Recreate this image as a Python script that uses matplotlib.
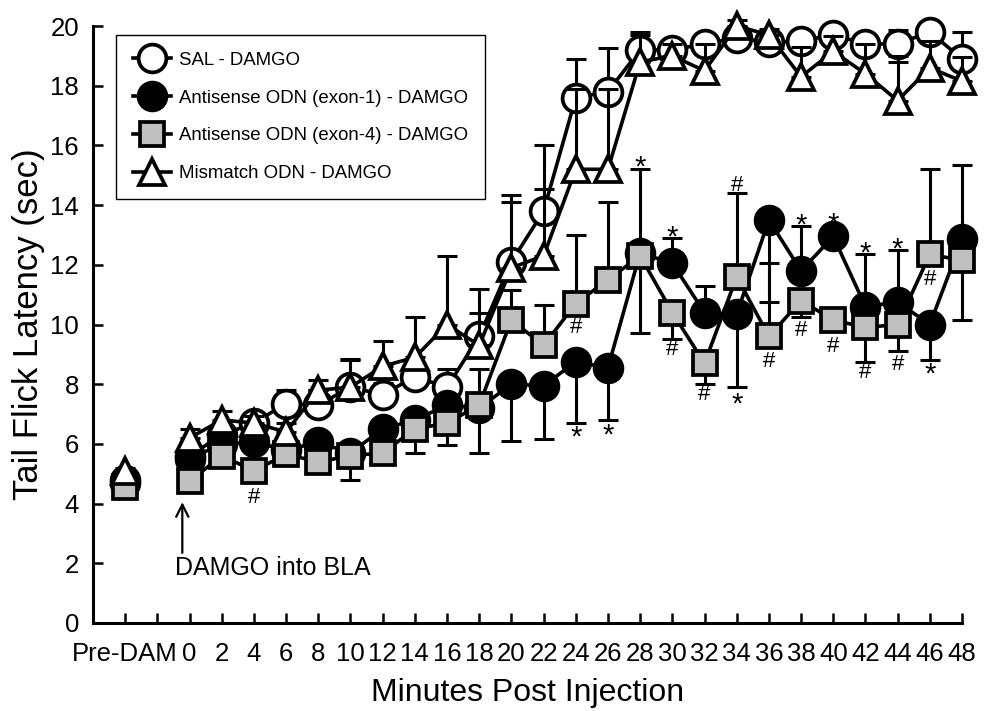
import matplotlib
matplotlib.use("Agg")
import matplotlib.pyplot as plt
from matplotlib.lines import Line2D

plt.rcParams['font.family'] = ['Liberation Sans', 'DejaVu Sans']

# ---------------- data ----------------
time_points = ["Pre-DAM", 0, 2, 4, 6, 8, 10, 12, 14, 16, 18, 20, 22, 24, 26,
               28, 30, 32, 34, 36, 38, 40, 42, 44, 46, 48]
tick_labels = ["Pre-DAM", "", "0", "2", "4", "6", "8", "10", "12", "14", "16", "18",
               "20", "22", "24", "26", "28", "30", "32", "34", "36", "38", "40",
               "42", "44", "46", "48"]

sal = [4.8, 5.6, 6.3, 6.7, 7.35, 7.3, 7.9, 7.65, 8.25, 7.9, 9.6, 12.1, 13.8, 17.6,
       17.8, 19.2, 19.2, 19.4, 19.6, 19.45, 19.5, 19.7, 19.4, 19.4, 19.8, 18.9]
sal_up = [0.2, 0.3, 0.3, 0.3, 0.45, 0.5, 0.9, 0.4, 0.4, 0.6, 0.8, 2.0, 2.2, 1.3,
          1.45, 0.6, 0.3, 0.3, 0.2, 0.2, 0.2, 0.2, 0.3, 0.45, 0.15, 0.9]
sal_dn = [0, 0, 0, 0, 0, 0, 0, 0, 0, 0, 0, 0, 0, 0,
          0, 0, 0, 0, 0, 0, 0, 0, 0, 0.6, 0, 0]

exon1 = [4.7, 5.5, 6.0, 6.05, 5.8, 6.05, 5.7, 6.5, 6.8, 7.3, 7.2, 8.0, 7.95, 8.75,
         8.55, 12.4, 12.05, 10.4, 10.35, 13.5, 11.8, 12.95, 10.6, 10.75, 10.0, 12.85]
exon1_up = [0, 0, 0, 0, 0, 0, 0, 0, 0, 0, 0, 0, 0, 0,
            0, 2.8, 0.85, 0.9, 0, 0, 1.5, 0.3, 1.75, 1.75, 0, 2.5]
exon1_dn = [0.2, 0.3, 0.3, 0.3, 0.3, 0.3, 0.3, 0.3, 0.4, 0.5, 1.5, 1.9, 1.8, 2.05,
            1.75, 0, 0, 0, 2.45, 2.75, 0, 0, 0, 0, 1.2, 0]

exon4 = [4.55, 4.75, 5.6, 5.1, 5.65, 5.4, 5.6, 5.7, 6.5, 6.7, 7.3, 10.15, 9.3, 10.7,
         11.5, 12.3, 10.4, 8.7, 11.6, 9.6, 10.8, 10.15, 9.9, 10.0, 12.35, 12.15]
exon4_up = [0, 0, 0, 0, 0, 0, 0, 0, 0, 0, 1.2, 1.0, 1.35, 2.3,
            2.6, 0, 0, 0, 2.8, 2.45, 0, 0, 0, 0, 2.85, 0]
exon4_dn = [0.1, 0.2, 0.2, 0.2, 0.2, 0.2, 0.8, 0.2, 0.8, 0.75, 0, 0, 0, 0,
            0, 2.6, 0.9, 0.7, 0, 0, 0.55, 0.3, 1.15, 0.9, 0, 2.0]

mismatch = [5.1, 6.2, 6.8, 6.7, 6.4, 7.8, 7.9, 8.6, 8.9, 10.0, 9.3, 11.9, 12.3, 15.2,
            15.2, 18.8, 19.0, 18.5, 20.0, 19.7, 18.3, 19.15, 18.4, 17.5, 18.6, 18.15]
mismatch_up = [0.1, 0.3, 0.3, 0.25, 0.3, 0.35, 0.95, 0.85, 1.35, 2.3, 1.9, 2.45, 2.25,
               2.7, 2.7, 0.9, 0.4, 0.9, 0.2, 0.2, 1.0, 0.5, 1.0, 1.5, 0.9, 0.8]
mismatch_dn = [0] * 26

sig_time = [4, 24, 24, 26, 28, 30, 30, 32, 34, 34, 36, 38, 38, 40, 40, 42, 42, 44, 44, 46, 46]
sig_val = [4.2, 9.9, 6.4, 6.45, 15.45, 13.1, 9.15, 7.65, 14.65, 7.5, 8.75, 13.5, 9.8,
           13.55, 9.25, 12.55, 8.4, 12.7, 8.65, 11.5, 8.5]
sig_sym = ['#', '#', '*', '*', '*', '*', '#', '#', '#', '*', '#', '*', '#', '*', '#',
           '*', '#', '*', '#', '#', '*']

labels = ["SAL - DAMGO", "Antisense ODN (exon-1) - DAMGO",
          "Antisense ODN (exon-4) - DAMGO", "Mismatch ODN - DAMGO"]

# ---------------- figure ----------------
PRE_POS = -4
xpos = [PRE_POS if t == "Pre-DAM" else t for t in time_points]
tick_pos = [PRE_POS, -2] + list(range(0, 50, 2))

fig = plt.figure(figsize=(9.84, 7.11), dpi=100)
ax = fig.add_axes([93 / 984, 1 - 623 / 711, (962 - 93) / 984, (623 - 26) / 711])

series = [
    (sal, sal_dn, sal_up, dict(marker='o', mfc='white', ms=20), 3),
    (exon1, exon1_dn, exon1_up, dict(marker='o', mfc='black', ms=20), 4),
    (exon4, exon4_dn, exon4_up, dict(marker='s', mfc='#c0c0c0', ms=17), 5),
    (mismatch, mismatch_dn, mismatch_up, dict(marker='^', mfc='white', ms=19), 6),
]

handles = []
for (vals, dn, up, mk, z), lab in zip(series, labels):
    eb = ax.errorbar(xpos, vals, yerr=[dn, up], fmt='none', ecolor='black',
                     elinewidth=2.2, capsize=7, capthick=2.2, zorder=z)
    for art in list(eb.lines[1]) + list(eb.lines[2]):
        art.set_clip_on(False)
    ax.plot(xpos[1:], vals[1:], color='black', lw=2.6, zorder=z + 0.1, clip_on=False)
    ax.plot(xpos, vals, linestyle='none', mec='black', mew=2.7,
            zorder=z + 0.2, clip_on=False, **mk)
    handles.append(Line2D([], [], color='black', lw=2.6, mec='black', mew=2.7, **mk))

for t, v, s in zip(sig_time, sig_val, sig_sym):
    if s == '*':
        ax.annotate(s, (t, v), xytext=(0, -4), textcoords='offset points',
                    ha='center', va='center', fontsize=21, zorder=10)
    else:
        ax.text(t, v, s, ha='center', va='center', fontsize=16, zorder=10)

ax.set_xlim(-6, 48)
ax.set_ylim(0, 20)
ax.set_xticks(tick_pos)
ax.set_xticklabels(tick_labels)
ax.set_yticks(range(0, 21, 2))

for s in ['top', 'right']:
    ax.spines[s].set_visible(False)
for s in ['left', 'bottom']:
    ax.spines[s].set_linewidth(2.2)
ax.tick_params(axis='both', direction='in', length=7, width=1.8, labelsize=18.5)
ax.tick_params(axis='x', pad=14)
ax.tick_params(axis='y', pad=10)

ax.set_xlabel("Minutes Post Injection", fontsize=23, labelpad=8)
ax.set_ylabel("Tail Flick Latency (sec)", fontsize=25, labelpad=4)

ax.annotate('', xy=(-0.45, 4.05), xytext=(-0.45, 2.35),
            arrowprops=dict(arrowstyle='->', lw=1.6, color='black', mutation_scale=22,
                            shrinkA=0, shrinkB=0))
ax.text(-0.9, 1.84, "DAMGO into BLA", ha='left', va='center', fontsize=18)

leg = ax.legend(handles, labels, loc='upper left', bbox_to_anchor=(0.0265, 0.985),
                borderaxespad=0, fontsize=13.4, frameon=True, fancybox=False,
                edgecolor='black', framealpha=1, handlelength=2.05,
                handletextpad=0.42, labelspacing=1.12, borderpad=0.9)
leg.get_frame().set_linewidth(1.0)

fig.savefig("out.png", dpi=100)
